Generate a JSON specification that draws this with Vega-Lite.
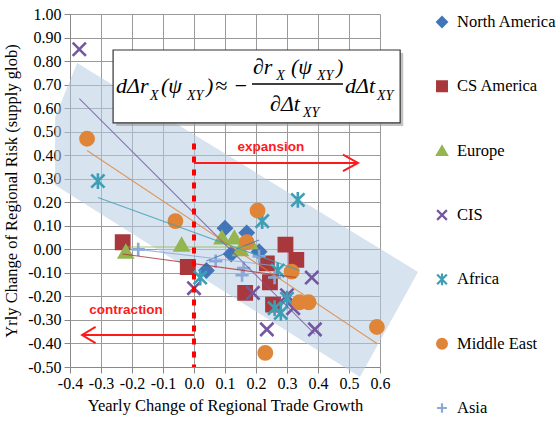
{
  "$schema": "https://vega.github.io/schema/vega-lite/v6.json",
  "width": 310,
  "height": 353,
  "autosize": {"type": "none"},
  "padding": {"left": 70, "top": 14, "right": 179, "bottom": 61},
  "background": "white",
  "view": {"stroke": null},
  "config": {
    "axis": {
      "labelFont": "Liberation Serif", "labelFontSize": 16, "labelColor": "#000",
      "titleFont": "Liberation Serif", "titleFontSize": 16.5, "titleFontWeight": "normal", "titleColor": "#000",
      "gridColor": "#9a9a9a", "gridWidth": 1, "tickColor": "#888", "domainColor": "#888", "tickSize": 6
    }
  },
  "resolve": {"scale": {"x": "independent", "y": "independent"}},
  "layer": [
    {
      "encoding": {
        "x": {
          "field": "x", "type": "quantitative",
          "scale": {"domain": [-0.4, 0.6], "nice": false, "zero": false},
          "axis": {
            "title": "Yearly Change of Regional Trade Growth",
            "values": [-0.4, -0.3, -0.2, -0.1, 0, 0.1, 0.2, 0.3, 0.4, 0.5, 0.6],
            "labelExpr": "replace(format(datum.value, '.1f'), '\u2212', '-')",
            "labelPadding": 2, "titlePadding": 6, "labelFlush": false
          }
        },
        "y": {
          "field": "y", "type": "quantitative",
          "scale": {"domain": [-0.5, 1.0], "nice": false, "zero": false},
          "axis": {
            "title": "Yrly Change of Regional Risk (supply glob)",
            "values": [-0.5, -0.4, -0.3, -0.2, -0.1, 0, 0.1, 0.2, 0.3, 0.4, 0.5, 0.6, 0.7, 0.8, 0.9, 1.0],
            "labelExpr": "replace(format(datum.value, '.2f'), '\u2212', '-')",
            "labelPadding": 3, "titlePadding": 8
          }
        }
      },
      "layer": [
        {
          "description": "tilted confidence band behind the scatter",
          "data": {"values": [
            {"x": -0.448, "y": 0.562, "y2": 0.273},
            {"x": -0.377, "y": 0.792, "y2": 0.214},
            {"x": 0.5355, "y": 0.055, "y2": -0.5425},
            {"x": 0.7226, "y": -0.096, "y2": -0.096}
          ]},
          "mark": {"type": "area", "fill": "#b8cce4", "opacity": 0.55, "clip": false},
          "encoding": {"y2": {"field": "y2"}}
        },
        {
          "description": "regional observations",
          "data": {"values": [
            {"region": "North America", "x": 0.10, "y": 0.09},
            {"region": "North America", "x": 0.17, "y": 0.07},
            {"region": "North America", "x": 0.12, "y": -0.02},
            {"region": "North America", "x": 0.21, "y": -0.01},
            {"region": "North America", "x": 0.04, "y": -0.09},
            {"region": "CS America", "x": -0.23, "y": 0.03},
            {"region": "CS America", "x": -0.02, "y": -0.075},
            {"region": "CS America", "x": 0.165, "y": -0.185},
            {"region": "CS America", "x": 0.295, "y": 0.02},
            {"region": "CS America", "x": 0.33, "y": -0.045},
            {"region": "CS America", "x": 0.235, "y": -0.06},
            {"region": "CS America", "x": 0.245, "y": -0.14},
            {"region": "CS America", "x": 0.255, "y": -0.235},
            {"region": "Europe", "x": -0.22, "y": -0.01},
            {"region": "Europe", "x": -0.04, "y": 0.02},
            {"region": "Europe", "x": 0.09, "y": 0.05},
            {"region": "Europe", "x": 0.13, "y": 0.05},
            {"region": "Europe", "x": 0.18, "y": 0.03},
            {"region": "Europe", "x": 0.15, "y": 0.0},
            {"region": "CIS", "x": -0.37, "y": 0.85},
            {"region": "CIS", "x": 0.0, "y": -0.165},
            {"region": "CIS", "x": 0.38, "y": -0.12},
            {"region": "CIS", "x": 0.19, "y": -0.185},
            {"region": "CIS", "x": 0.30, "y": -0.195},
            {"region": "CIS", "x": 0.32, "y": -0.25},
            {"region": "CIS", "x": 0.235, "y": -0.34},
            {"region": "CIS", "x": 0.39, "y": -0.34},
            {"region": "Africa", "x": -0.31, "y": 0.29},
            {"region": "Africa", "x": 0.335, "y": 0.21},
            {"region": "Africa", "x": 0.22, "y": 0.12},
            {"region": "Africa", "x": 0.27, "y": -0.09},
            {"region": "Africa", "x": 0.28, "y": -0.27},
            {"region": "Africa", "x": 0.02, "y": -0.12},
            {"region": "Africa", "x": 0.30, "y": -0.21},
            {"region": "Africa", "x": 0.26, "y": -0.25},
            {"region": "Middle East", "x": -0.345, "y": 0.47},
            {"region": "Middle East", "x": -0.06, "y": 0.12},
            {"region": "Middle East", "x": 0.205, "y": 0.165},
            {"region": "Middle East", "x": 0.17, "y": 0.03},
            {"region": "Middle East", "x": 0.315, "y": -0.095},
            {"region": "Middle East", "x": 0.34, "y": -0.225},
            {"region": "Middle East", "x": 0.37, "y": -0.225},
            {"region": "Middle East", "x": 0.59, "y": -0.33},
            {"region": "Middle East", "x": 0.23, "y": -0.44},
            {"region": "Asia", "x": -0.18, "y": 0.0},
            {"region": "Asia", "x": 0.16, "y": -0.08},
            {"region": "Asia", "x": 0.21, "y": -0.03},
            {"region": "Asia", "x": 0.155, "y": -0.11},
            {"region": "Asia", "x": 0.26, "y": -0.12},
            {"region": "Asia", "x": 0.07, "y": -0.05}
          ]},
          "mark": {"type": "point", "filled": true, "size": 175, "strokeWidth": 2.6, "opacity": 1},
          "encoding": {
            "color": {
              "field": "region", "type": "nominal",
              "scale": {
                "domain": ["North America", "CS America", "Europe", "CIS", "Africa", "Middle East", "Asia"],
                "range": ["#4276b8", "#a8383c", "#93b650", "#7357a0", "#3d9fb5", "#e08538", "#8aa8d8"]
              },
              "legend": null
            },
            "stroke": {
              "field": "region", "type": "nominal",
              "scale": {
                "domain": ["North America", "CS America", "Europe", "CIS", "Africa", "Middle East", "Asia"],
                "range": ["#4276b8", "#a8383c", "#93b650", "#7357a0", "#3d9fb5", "#e08538", "#8aa8d8"]
              },
              "legend": null
            },
            "shape": {
              "field": "region", "type": "nominal",
              "scale": {
                "domain": ["North America", "CS America", "Europe", "CIS", "Africa", "Middle East", "Asia"],
                "range": ["diamond", "square", "triangle-up", "M-1,-1L1,1M-1,1L1,-1", "M-1,-1L1,1M-1,1L1,-1M0,-1.2L0,1.2", "circle", "M-1,0L1,0M0,-1L0,1"]
              },
              "legend": null
            }
          }
        },
        {
          "description": "linear trend per region",
          "data": {"values": [
            {"region": "North America", "x": 0.04, "y": -0.05},
            {"region": "North America", "x": 0.21, "y": 0.04},
            {"region": "CS America", "x": -0.23, "y": -0.02},
            {"region": "CS America", "x": 0.33, "y": -0.12},
            {"region": "Europe", "x": -0.22, "y": 0.01},
            {"region": "Europe", "x": 0.19, "y": 0.01},
            {"region": "CIS", "x": -0.37, "y": 0.64},
            {"region": "CIS", "x": 0.39, "y": -0.36},
            {"region": "Africa", "x": -0.31, "y": 0.22},
            {"region": "Africa", "x": 0.34, "y": -0.09},
            {"region": "Middle East", "x": -0.345, "y": 0.42},
            {"region": "Middle East", "x": 0.59, "y": -0.40},
            {"region": "Asia", "x": -0.18, "y": 0.0},
            {"region": "Asia", "x": 0.26, "y": -0.07}
          ]},
          "mark": {"type": "line", "strokeWidth": 1.1, "opacity": 0.8},
          "encoding": {
            "detail": {"field": "region", "type": "nominal"},
            "color": {"field": "region", "type": "nominal", "legend": null}
          }
        },
        {
          "description": "zero-growth divider",
          "data": {"values": [{"x": 0, "y": 0.45, "y2": -0.5}]},
          "mark": {"type": "rule", "color": "#ff0000", "strokeWidth": 4, "strokeDash": [6, 7]},
          "encoding": {"y2": {"field": "y2"}}
        },
        {
          "description": "expansion and contraction arrows",
          "data": {"values": [
            {"x": 0, "x2": 0.529, "y": 0.367},
            {"x": 0, "x2": -0.361, "y": -0.364}
          ]},
          "mark": {"type": "rule", "color": "#ff1a1a", "strokeWidth": 2},
          "encoding": {"x2": {"field": "x2"}}
        },
        {
          "data": {"values": [{"x": 0.529, "y": 0.367}]},
          "mark": {"type": "point", "shape": "M-1,-0.55L0,0L-1,0.55", "size": 900, "filled": false, "stroke": "#ff1a1a", "strokeWidth": 2, "opacity": 1}
        },
        {
          "data": {"values": [{"x": -0.361, "y": -0.364}]},
          "mark": {"type": "point", "shape": "M1,-0.6L0,0L1,0.6", "size": 729, "filled": false, "stroke": "#ff1a1a", "strokeWidth": 2, "opacity": 1}
        },
        {
          "data": {"values": [
            {"x": 0.248, "y": 0.435, "t": "expansion"},
            {"x": -0.219, "y": -0.258, "t": "contraction"}
          ]},
          "mark": {"type": "text", "font": "Liberation Sans", "fontSize": 13.5, "fontWeight": "bold", "color": "#ff1a1a", "align": "center", "baseline": "middle"},
          "encoding": {"text": {"field": "t", "type": "nominal"}}
        },
        {
          "description": "equation panel shadow",
          "data": {"values": [{"x": -0.251, "x2": 0.675, "y": 0.834, "y2": 0.524}]},
          "mark": {"type": "rect", "fill": "#9a9a9a", "opacity": 0.6, "clip": false},
          "encoding": {"x2": {"field": "x2"}, "y2": {"field": "y2"}}
        },
        {
          "description": "equation panel",
          "data": {"values": [{"x": -0.261, "x2": 0.665, "y": 0.847, "y2": 0.537}]},
          "mark": {"type": "rect", "fill": "#ffffff", "stroke": "#333333", "strokeWidth": 1.2, "clip": false},
          "encoding": {"x2": {"field": "x2"}, "y2": {"field": "y2"}}
        },
        {
          "data": {"values": [
            {"t": "dΔr", "x": -0.2516, "y": 0.6643},
            {"t": "(ψ", "x": -0.1065, "y": 0.6643},
            {"t": ")", "x": 0.0387, "y": 0.6643},
            {"t": "≈", "x": 0.0677, "y": 0.6643},
            {"t": "−", "x": 0.1258, "y": 0.6643},
            {"t": "∂r", "x": 0.1903, "y": 0.745},
            {"t": "(ψ", "x": 0.3129, "y": 0.745},
            {"t": ")", "x": 0.4581, "y": 0.745},
            {"t": "∂Δt", "x": 0.2452, "y": 0.5878},
            {"t": "dΔt", "x": 0.4871, "y": 0.6643}
          ]},
          "mark": {"type": "text", "font": "Liberation Serif", "fontSize": 22, "fontStyle": "italic", "color": "#000", "align": "left", "baseline": "alphabetic"},
          "encoding": {"text": {"field": "t", "type": "nominal"}}
        },
        {
          "data": {"values": [
            {"t": "X", "x": -0.1419, "y": 0.6346},
            {"t": "XY", "x": -0.0226, "y": 0.6346},
            {"t": "X", "x": 0.265, "y": 0.7195},
            {"t": "XY", "x": 0.3968, "y": 0.7195},
            {"t": "XY", "x": 0.3516, "y": 0.5623},
            {"t": "XY", "x": 0.5903, "y": 0.6346}
          ]},
          "mark": {"type": "text", "font": "Liberation Serif", "fontSize": 14, "fontStyle": "italic", "color": "#000", "align": "left", "baseline": "alphabetic"},
          "encoding": {"text": {"field": "t", "type": "nominal"}}
        },
        {
          "description": "fraction bar",
          "data": {"values": [{"x": 0.1871, "x2": 0.4806, "y": 0.7025}]},
          "mark": {"type": "rule", "color": "#000", "strokeWidth": 1.3},
          "encoding": {"x2": {"field": "x2"}}
        }
      ]
    },
    {
      "description": "region key",
      "data": {"values": [
        {"region": "North America"},
        {"region": "CS America"},
        {"region": "Europe"},
        {"region": "CIS"},
        {"region": "Africa"},
        {"region": "Middle East"},
        {"region": "Asia"}
      ]},
      "encoding": {
        "x": {"datum": 0.8, "type": "quantitative", "scale": {"domain": [-0.4, 0.6], "nice": false, "zero": false}, "axis": null},
        "y": {
          "field": "region", "type": "nominal",
          "scale": {"type": "point", "domain": ["North America", "CS America", "Europe", "CIS", "Africa", "Middle East", "Asia"], "range": [8, 394], "padding": 0},
          "axis": null
        }
      },
      "layer": [
        {
          "mark": {"type": "point", "filled": true, "size": 95, "strokeWidth": 2.2, "opacity": 1, "clip": false},
          "encoding": {
            "color": {"field": "region", "type": "nominal", "legend": null},
            "stroke": {"field": "region", "type": "nominal", "legend": null},
            "shape": {"field": "region", "type": "nominal", "legend": null}
          }
        },
        {
          "mark": {"type": "text", "font": "Liberation Serif", "fontSize": 16.5, "color": "#000", "align": "left", "baseline": "middle", "dx": 15, "clip": false},
          "encoding": {"text": {"field": "region", "type": "nominal"}}
        }
      ]
    }
  ]
}
